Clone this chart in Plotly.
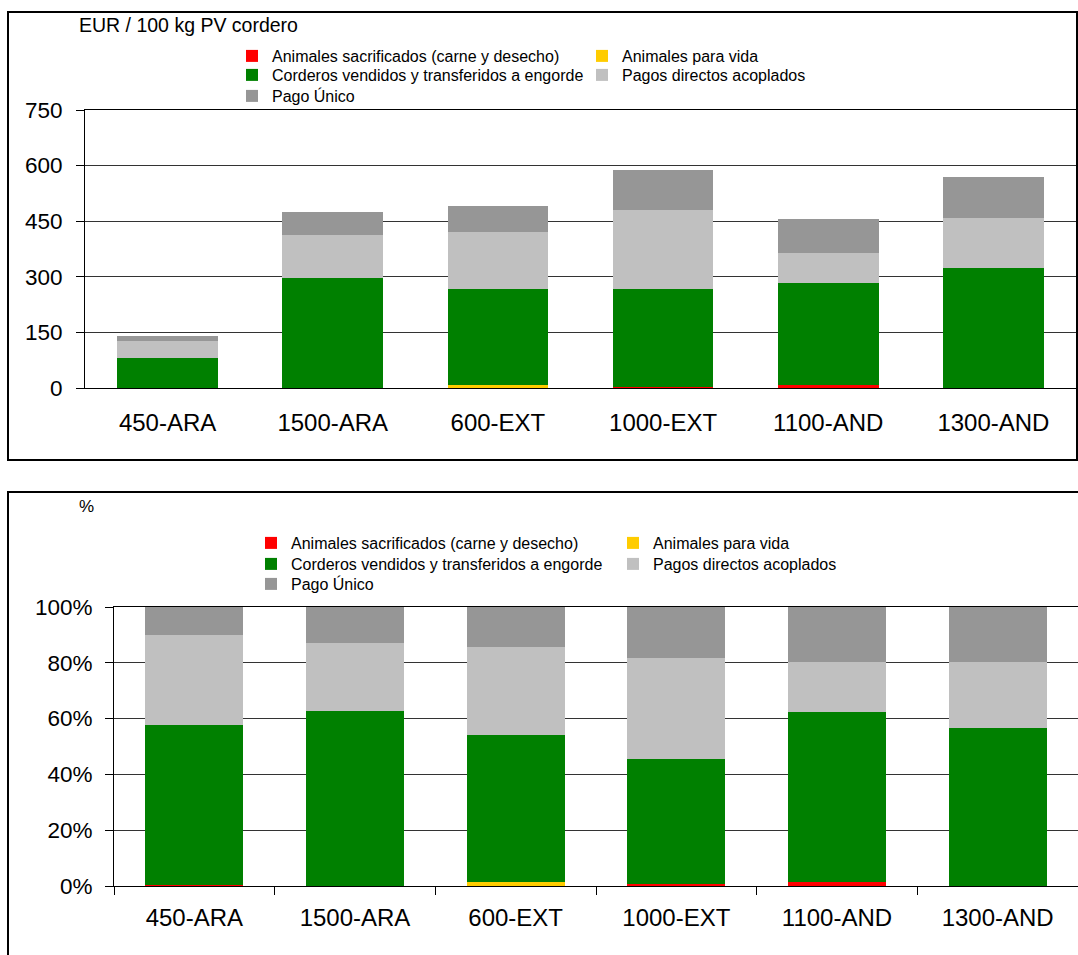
import plotly.graph_objects as go

# Estructura de ingresos por explotación (EUR / 100 kg PV cordero)
categorias = ["450-ARA", "1500-ARA", "600-EXT", "1000-EXT", "1100-AND", "1300-AND"]
sacrificados = [0.4, 0.3, 0, 4, 7, 0.3]
para_vida = [0, 0, 7, 0, 0, 0]
corderos = [81, 297, 259, 264, 276, 323]
pagos_acoplados = [46, 116, 156, 211, 82, 134]
pago_unico = [14, 62, 70, 108, 90, 113]

nombres = [
    "Animales sacrificados (carne y desecho)",
    "Animales para vida",
    "Corderos vendidos y transferidos a engorde",
    "Pagos directos acoplados",
    "Pago Único",
]
colores = ["#FF0000", "#FFCC00", "#008000", "#C0C0C0", "#969696"]
series = [sacrificados, para_vida, corderos, pagos_acoplados, pago_unico]

# totales para el gráfico en %
totales = [sum(v) for v in zip(*series)]

W, H = 1078, 955
FONT = "Liberation Sans, Arial, sans-serif"


def fx(px):
    return px / W


def fy(py):
    return 1 - py / H


fig = go.Figure()

# una leyenda por fila (dos columnas, como en el original)
fila_top = ["legend", "legend", "legend2", "legend2", "legend3"]
fila_bot = ["legend4", "legend4", "legend5", "legend5", "legend6"]

for i, vals in enumerate(series):
    fig.add_trace(go.Bar(
        x=categorias, y=vals, name=nombres[i],
        marker=dict(color=colores[i], line=dict(width=0)),
        legend=fila_top[i], xaxis="x", yaxis="y",
    ))

for i, vals in enumerate(series):
    pct = [v / t * 100 for v, t in zip(vals, totales)]
    fig.add_trace(go.Bar(
        x=categorias, y=pct, name=nombres[i],
        marker=dict(color=colores[i], line=dict(width=0)),
        legend=fila_bot[i], xaxis="x2", yaxis="y2",
    ))


def leyenda(x, y, ancho):
    return dict(
        orientation="h", traceorder="normal", xanchor="left", yanchor="top",
        x=fx(x), y=fy(y), entrywidth=ancho, entrywidthmode="pixels",
        bgcolor="rgba(0,0,0,0)", font=dict(family=FONT, size=16, color="black"),
    )


fig.update_layout(
    width=W, height=H,
    margin=dict(l=0, r=0, t=0, b=0, autoexpand=False),
    paper_bgcolor="white", plot_bgcolor="white",
    font=dict(family=FONT, color="black"),
    barmode="stack", bargap=0.39,
    xaxis=dict(
        domain=[fx(85), fx(1076)], anchor="y", automargin=False,
        showline=True, linecolor="black", linewidth=1, mirror=True,
        ticks="", showgrid=False, tickfont=dict(size=24),
        ticklabelstandoff=13,
    ),
    yaxis=dict(
        domain=[fy(388), fy(110)], anchor="x", automargin=False,
        range=[0, 750], tick0=0, dtick=150,
        showgrid=True, gridcolor="#333333", gridwidth=1, zeroline=False,
        showline=True, linecolor="black", linewidth=1, mirror=True,
        ticks="outside", ticklen=8, tickcolor="black",
        tickfont=dict(size=22.5), ticklabelstandoff=9,
    ),
    xaxis2=dict(
        domain=[fx(114), 1], anchor="y2", automargin=False,
        showline=True, linecolor="black", linewidth=1, mirror=True,
        ticks="outside", tickson="boundaries", ticklen=8, tickcolor="black",
        showgrid=False, tickfont=dict(size=24), ticklabelstandoff=10,
    ),
    yaxis2=dict(
        domain=[fy(886), fy(607)], anchor="x2", automargin=False,
        range=[0, 100], tick0=0, dtick=20, ticksuffix="%",
        showgrid=True, gridcolor="#333333", gridwidth=1, zeroline=False,
        showline=True, linecolor="black", linewidth=1, mirror=True,
        ticks="outside", ticklen=8, tickcolor="black",
        tickfont=dict(size=22.5), ticklabelstandoff=8,
    ),
    legend=leyenda(232, 39, 305),
    legend2=leyenda(232, 58, 305),
    legend3=leyenda(232, 79, 305),
    legend4=leyenda(251, 526, 317),
    legend5=leyenda(251, 547, 317),
    legend6=leyenda(251, 567, 317),
    showlegend=True,
)

# marcos de los dos gráficos
fig.add_shape(type="rect", xref="paper", yref="paper",
              x0=fx(8), x1=fx(1077), y0=fy(460), y1=fy(12),
              line=dict(color="black", width=2), fillcolor="rgba(0,0,0,0)")
fig.add_shape(type="rect", xref="paper", yref="paper",
              x0=fx(8), x1=1.01, y0=-0.01, y1=fy(492),
              line=dict(color="black", width=2), fillcolor="rgba(0,0,0,0)")

fig.add_annotation(text="EUR / 100 kg PV cordero", xref="paper", yref="paper",
                   x=fx(77), y=fy(25), xanchor="left", yanchor="middle",
                   showarrow=False, font=dict(size=19.5))
fig.add_annotation(text="%", xref="paper", yref="paper",
                   x=fx(77), y=fy(506), xanchor="left", yanchor="middle",
                   showarrow=False, font=dict(size=17))

# quitar el margen de la página para que el gráfico ocupe la ventana
pin = ("document.body.style.margin='0';"
       "var gd=document.getElementById('{plot_id}');"
       "gd.style.position='absolute';gd.style.left='0px';gd.style.top='0px';")

fig.write_html("out.html", post_script=pin, config={"displayModeBar": False})
